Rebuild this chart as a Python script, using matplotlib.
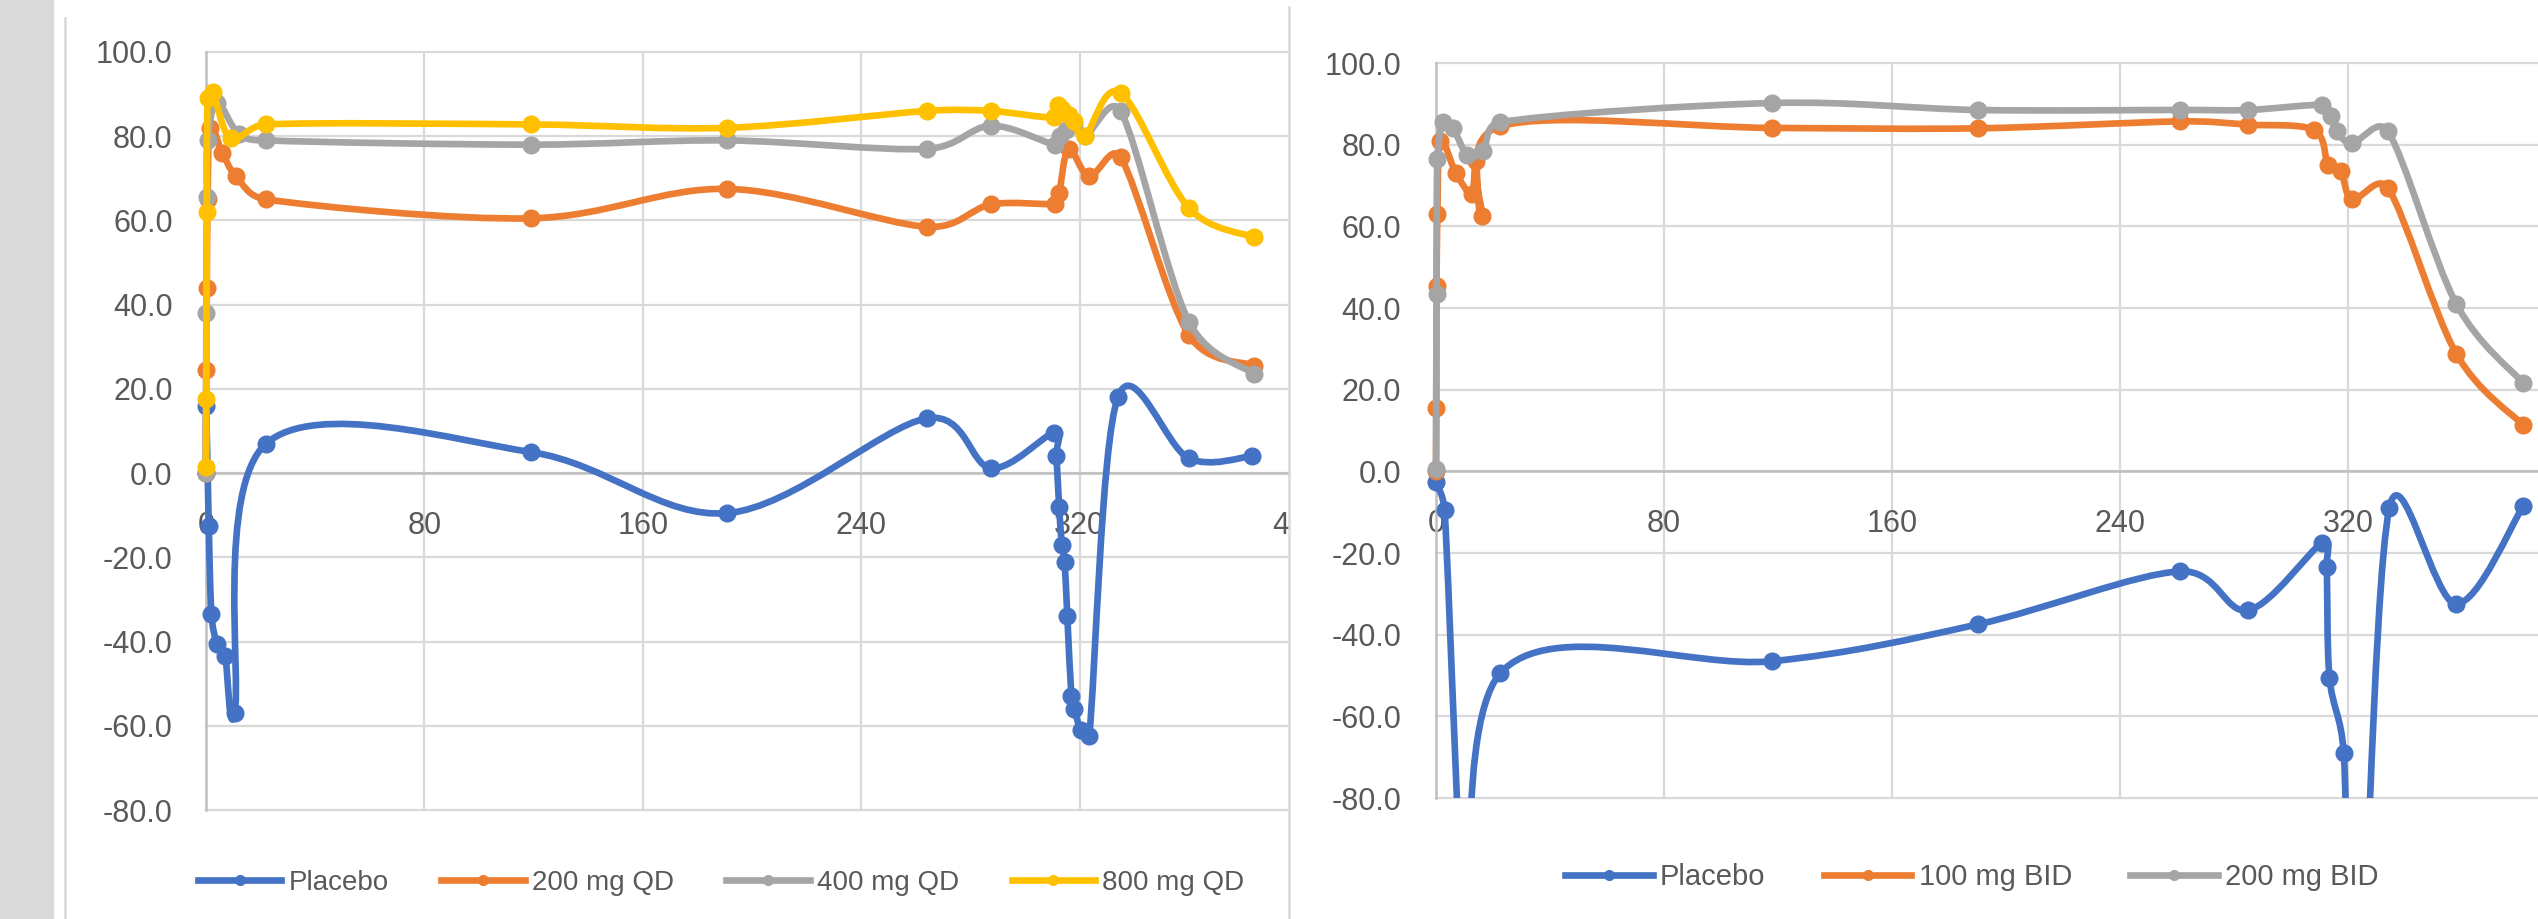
import numpy as np
import matplotlib.pyplot as plt
from matplotlib.path import Path
from matplotlib.patches import PathPatch, Rectangle
from matplotlib.lines import Line2D

plt.rcParams['font.family'] = ['Liberation Sans', 'DejaVu Sans']

# ---- left chart: once-daily dosing ----
qd_t_placebo = [0, 0.05, 1, 2, 4, 7, 10.5, 22, 119, 191, 264, 287.5, 310.5, 311.5, 312.5,
                313.5, 314.5, 315.5, 317, 318, 320.5, 323.5, 334, 360, 383]
qd_placebo = [0, 16, -12.5, -33.5, -40.5, -43.5, -57, 7, 5, -9.5, 13, 1.2, 9.5, 4, -8,
              -17, -21, -34, -53, -56, -61, -62.5, 18, 3.5, 4]
qd_t_200 = [0, 0.1, 0.3, 0.6, 1.5, 6, 11, 22, 119, 191, 264, 287.5, 311, 312.5, 316,
            323.5, 335, 360, 384]
qd_200 = [0, 24.5, 44, 65, 82, 76, 70.5, 65, 60.5, 67.5, 58.5, 63.8, 64, 66.5, 77,
          70.5, 75, 32.8, 25.5]
qd_t_400 = [0, 0.1, 0.3, 0.6, 4, 12, 22, 119, 191, 264, 287.5, 311, 313, 315, 318, 322,
            335, 360, 384]
qd_400 = [0, 38, 65.5, 79, 88, 80.5, 79, 78, 79, 77, 82.5, 78, 80, 81.5, 83, 80,
          86, 36, 23.5]
qd_t_800 = [0, 0.1, 0.3, 0.6, 2.5, 9, 22, 119, 191, 264, 287.5, 310.5, 312, 313.5, 316,
            318, 322, 335, 360, 384]
qd_800 = [1.5, 17.5, 62, 89, 90.5, 79.5, 82.8, 82.8, 82, 86, 86, 84.5, 87.5, 86.5, 85,
          83.5, 80, 90.3, 63, 56]

# ---- right chart: twice-daily dosing (placebo dips below the axis floor) ----
bid_t_placebo = [0, 3, 12, 22.5, 118, 190, 261, 285, 311, 312.5, 313.5, 318.5, 323,
                 334.5, 358, 381.5]
bid_placebo = [-2.5, -9.5, -130, -49.5, -46.5, -37.5, -24.5, -34, -17.5, -23.5, -50.5,
               -69, -150, -9, -32.5, -8.5]
bid_t_100 = [0, 0.1, 0.2, 0.5, 1.5, 7, 12.5, 14, 16, 22.5, 118, 190, 261, 285, 308,
             313, 317.5, 321.5, 334, 358, 381.5]
bid_100 = [0, 15.5, 45.5, 63, 81, 73, 68, 76, 62.5, 84.5, 84.1, 84, 85.7, 84.9, 83.6,
           75.1, 73.5, 66.6, 69.4, 28.8, 11.3]
bid_t_200 = [0, 0.2, 0.5, 2.5, 6, 11, 16.5, 22.5, 118, 190, 261, 285, 311, 314, 316,
             321.5, 334, 358, 381.5]
bid_200 = [0.5, 43.5, 76.5, 85.5, 84, 77.5, 78.5, 85.5, 90.2, 88.5, 88.5, 88.5, 89.7,
           87, 83.3, 80.4, 83.3, 41, 21.6]

qd_labels = ['Placebo', '200 mg QD', '400 mg QD', '800 mg QD']
bid_labels = ['Placebo', '100 mg BID', '200 mg BID']
x_ticks = [0, 80, 160, 240, 320, 400]
y_ticks = [-80, -60, -40, -20, 0, 20, 40, 60, 80, 100]

colors = ['#4472C4', '#ED7D31', '#A5A5A5', '#FFC000']
TXT = '#595959'
GRID = '#D9D9D9'
LW = 4.8
MS = 12
W, H = 2538, 919


def smooth_path(ax, t, v):
    # excel-like smoothed scatter line: bezier with tangents capped at half a segment
    p = np.column_stack([t, v]).astype(float)
    d = ax.transData.transform(p)
    n = len(p)
    verts = [p[0]]
    codes = [Path.MOVETO]
    for i in range(n - 1):
        i0, i3 = max(i - 1, 0), min(i + 2, n - 1)
        d12 = np.hypot(*(d[i + 1] - d[i]))
        d02 = np.hypot(*(d[i + 1] - d[i0]))
        d13 = np.hypot(*(d[i3] - d[i]))
        f = 1 / 6 if d02 / 6 < d12 / 2 else d12 / (2 * d02)
        g = 1 / 6 if d13 / 6 < d12 / 2 else d12 / (2 * d13)
        c1 = p[i] + f * (p[i + 1] - p[i0])
        c2 = p[i + 1] - g * (p[i3] - p[i])
        verts += [c1, c2, p[i + 1]]
        codes += [Path.CURVE4] * 3
    return Path(verts, codes)


def setup_axes(ax, pad_y, xt):
    ax.set_xlim(0, 400)
    ax.set_ylim(-80, 100)
    ax.set_xticks(xt)
    ax.set_xticklabels([str(x) for x in xt])
    ax.set_yticks(y_ticks)
    ax.set_yticklabels([f'{y:.1f}' for y in y_ticks])
    ax.grid(True, color=GRID, lw=1.6)
    ax.set_axisbelow(True)
    for gl in ax.get_xgridlines() + ax.get_ygridlines():
        gl.set_clip_on(False)
    for s in ['top', 'right']:
        ax.spines[s].set_visible(False)
    ax.spines['bottom'].set_position(('data', 0))
    for s in ['bottom', 'left']:
        ax.spines[s].set_color('#BFBFBF')
        ax.spines[s].set_linewidth(1.8)
    ax.tick_params(axis='both', length=0, labelsize=22, labelcolor=TXT)
    ax.tick_params(axis='y', pad=pad_y)
    ax.tick_params(axis='x', pad=27)
    ax.patch.set_alpha(0)


def draw_series(ax, t, v, color):
    clip = Rectangle((-0.06, 0), 1.12, 1.12, transform=ax.transAxes)
    patch = PathPatch(smooth_path(ax, t, v), fill=False, edgecolor=color, lw=LW,
                      joinstyle='round', capstyle='round', transform=ax.transData, zorder=3)
    ax.add_patch(patch)
    patch.set_clip_path(clip)
    ln, = ax.plot(t, v, ls='none', marker='o', ms=MS, color=color, zorder=3)
    ln.set_clip_path(clip)


fig = plt.figure(figsize=(W / 100, H / 100), dpi=100)
fig.patch.set_facecolor('white')

# screenshot surroundings
fig.patches.append(Rectangle((0, 0), 53 / W, 1, transform=fig.transFigure,
                             color='#DADADA', zorder=0))
fig.lines.append(Line2D([65 / W, 65 / W], [0, 1 - 18 / H], transform=fig.transFigure,
                        color=GRID, lw=1.8, zorder=0))

# left chart
ax1 = fig.add_axes([206 / W, 1 - 810 / H, 1092 / W, 758 / H], zorder=0)
setup_axes(ax1, 24, x_ticks)
for (t, v), c in zip([(qd_t_placebo, qd_placebo), (qd_t_200, qd_200),
                      (qd_t_400, qd_400), (qd_t_800, qd_800)], colors):
    draw_series(ax1, t, v, c)

# right chart panel covers the overflow of the left one
fig.patches.append(Rectangle((1290 / W, 0), 1 - 1290 / W, 1, transform=fig.transFigure,
                             color='white', zorder=1))
fig.lines.append(Line2D([1289 / W, 1289 / W], [0, 1 - 7 / H], transform=fig.transFigure,
                        color=GRID, lw=1.8, zorder=4))

# right chart runs past the screenshot edge, its 400 label is not visible
ax2 = fig.add_axes([1436 / W, 1 - 798 / H, 1140 / W, 735 / H], zorder=2)
setup_axes(ax2, 25, x_ticks[:-1])
for (t, v), c in zip([(bid_t_placebo, bid_placebo), (bid_t_100, bid_100),
                      (bid_t_200, bid_200)], colors):
    draw_series(ax2, t, v, c)

leg_kw = dict(loc='center', frameon=False, handlelength=3.0,
              handletextpad=0.25, labelcolor=TXT, borderpad=0)
h1 = [Line2D([], [], color=c, lw=LW, marker='o', ms=7) for c in colors]
l1 = fig.legend(h1, qd_labels, bbox_to_anchor=(721 / W, 1 - 883 / H), ncol=4,
                columnspacing=1.9, fontsize=20, **leg_kw)
l1.set_zorder(0.5)
l2 = fig.legend(h1[:3], bid_labels, bbox_to_anchor=(1972 / W, 1 - 877 / H), ncol=3,
                columnspacing=2.0, fontsize=21, **leg_kw)
l2.set_zorder(3)

fig.savefig('out.png', dpi=100)
